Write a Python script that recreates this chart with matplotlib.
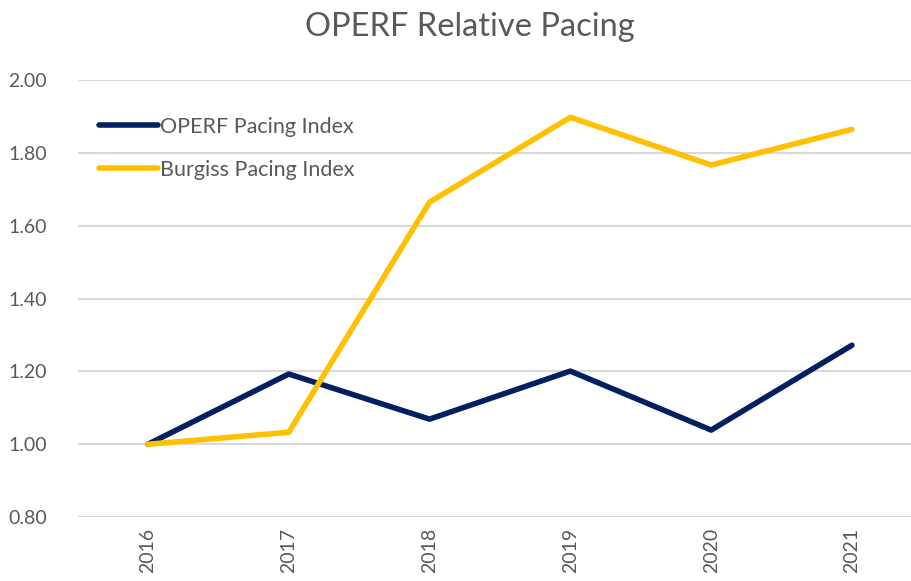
import matplotlib.pyplot as plt

plt.rcParams['font.family'] = ['Lato', 'DejaVu Sans']

years = ['2016', '2017', '2018', '2019', '2020', '2021']
operf = [1.00, 1.193, 1.069, 1.201, 1.039, 1.272]
burgiss = [1.00, 1.033, 1.665, 1.898, 1.767, 1.865]
yticks = [0.80, 1.00, 1.20, 1.40, 1.60, 1.80, 2.00]

text_grey = '#595959'
grid_grey = '#D9D9D9'

fig = plt.figure(figsize=(9.12, 5.81), dpi=100, facecolor='w')
ax = fig.add_axes([0.085, 0.110, 0.914, 0.752])

x = range(len(years))
ax.plot(x, operf, color='#002060', lw=4, solid_capstyle='round', solid_joinstyle='round',
        label='OPERF Pacing Index', zorder=3)
ax.plot(x, burgiss, color='#FFC000', lw=4, solid_capstyle='round', solid_joinstyle='round',
        label='Burgiss Pacing Index', zorder=3)

ax.set_xlim(-0.5, 5.42)
ax.set_ylim(0.8, 2.0)
ax.set_yticks(yticks)
ax.set_yticklabels(['%.2f' % v for v in yticks])
ax.set_xticks(list(x))
ax.set_xticklabels(years, rotation=90)

ax.grid(axis='y', color=grid_grey, lw=1.5)
ax.set_axisbelow(True)
for s in ax.spines.values():
    s.set_visible(False)
ax.tick_params(length=0, colors=text_grey, labelsize=14)
ax.tick_params(axis='y', pad=22)
ax.tick_params(axis='x', pad=8)

fig.suptitle('OPERF Relative Pacing', x=0.515, y=0.98, fontsize=23.5, color=text_grey)

leg = ax.legend(loc='upper left', bbox_to_anchor=(0.003, 0.96), frameon=False,
                fontsize=15.5, handlelength=2.7, handletextpad=0.12, labelspacing=1.05,
                labelcolor=text_grey)

fig.savefig('out.png', dpi=100)
